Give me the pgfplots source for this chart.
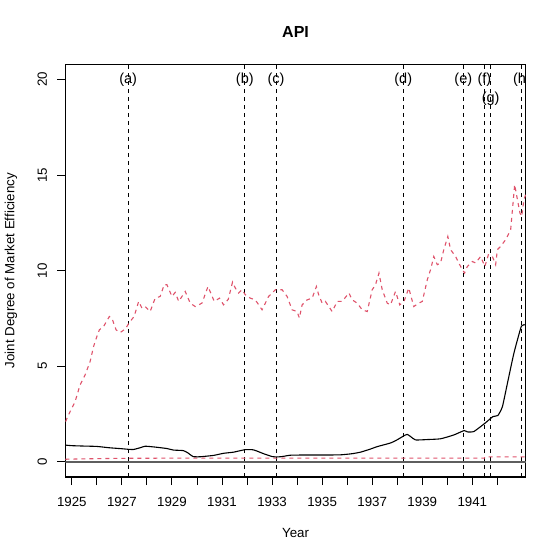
\documentclass[border=0pt]{standalone}
\usepackage{pgfplots}
\pgfplotsset{compat=1.18}
\usepackage{fontspec}
\setmainfont{Liberation Sans}
\definecolor{rred}{HTML}{DF536B}
\definecolor{zgray}{HTML}{5E5E5E}
\begin{document}
\begin{tikzpicture}[font=\fontsize{13.3}{16}\selectfont]
\useasboundingbox (-65.3pt,-82pt) rectangle (493.7pt,477pt);
\begin{axis}[
  at={(0,0)}, anchor=south west,
  scale only axis, width=460.5pt, height=412.7pt,
  xmin=1924.74, xmax=1943.135, ymin=-0.8, ymax=20.8,
  axis line style={line width=1.1pt},
  tick pos=left, tick align=outside, major tick length=8pt,
  tick style={line width=0.9pt, black},
  xtick={1925,...,1942},
  xticklabels={1925,,1927,,1929,,1931,,1933,,1935,,1937,,1939,,1941,},
  ytick={0,5,10,15,20},
  yticklabels={0,5,10,15,20},
  /pgf/number format/assume math mode=true,
  xticklabel style={inner sep=0pt},
  xticklabel shift=12pt,
  yticklabel style={rotate=90, anchor=south, inner sep=0pt},
  yticklabel shift=10pt,
  every axis title shift=0pt,
  title={\fontsize{16}{19}\selectfont\bfseries API},
  title style={at={(axis description cs:0.5,1.0783)}, anchor=center, inner sep=0pt},
  xlabel={Year},
  xlabel style={at={(axis description cs:0.5,-0.1364)}, anchor=center, inner sep=0pt},
  ylabel={Joint Degree of Market Efficiency},
  ylabel style={at={(axis description cs:-0.1179,0.5)}, anchor=center, inner sep=0pt},
  clip=true,
]
% zero line
\addplot[zgray, line width=1.6pt] coordinates {(1924.74,0) (1943.135,0)};
% event lines
\addplot[black, line width=0.9pt, dash pattern=on 4pt off 4pt] coordinates {(1927.25,-0.8) (1927.25,20.8)};
\addplot[black, line width=0.9pt, dash pattern=on 4pt off 4pt] coordinates {(1931.91,-0.8) (1931.91,20.8)};
\addplot[black, line width=0.9pt, dash pattern=on 4pt off 4pt] coordinates {(1933.16,-0.8) (1933.16,20.8)};
\addplot[black, line width=0.9pt, dash pattern=on 4pt off 4pt] coordinates {(1938.24,-0.8) (1938.24,20.8)};
\addplot[black, line width=0.9pt, dash pattern=on 4pt off 4pt] coordinates {(1940.64,-0.8) (1940.64,20.8)};
\addplot[black, line width=0.9pt, dash pattern=on 4pt off 4pt] coordinates {(1941.48,-0.8) (1941.48,20.8)};
\addplot[black, line width=0.9pt, dash pattern=on 4pt off 4pt] coordinates {(1941.73,-0.8) (1941.73,20.8)};
\addplot[black, line width=0.9pt, dash pattern=on 4pt off 4pt] coordinates {(1942.98,-0.8) (1942.98,20.8)};
% lower red
\addplot[rred, line width=1.1pt, dash pattern=on 4pt off 4pt] coordinates {
(1924.74,0.13) (1925.5,0.15) (1926.5,0.17) (1927.3,0.18) (1930,0.19) (1941.48,0.19) (1941.5,0.25) (1943.135,0.25)};
% upper red
\addplot[rred, line width=1.1pt, dash pattern=on 4pt off 4pt] coordinates {
(1924.75,2.10) (1924.93,2.62) (1925.13,3.14) (1925.33,4.02) (1925.53,4.54) (1925.73,5.24)
(1925.87,6.03) (1926.0,6.55) (1926.1,6.90) (1926.27,7.08) (1926.5,7.60) (1926.6,7.52)
(1926.77,6.90) (1926.93,6.76) (1927.13,6.94) (1927.33,7.34) (1927.49,7.60) (1927.67,8.39)
(1927.8,8.04) (1927.93,8.12) (1928.13,7.86) (1928.33,8.56) (1928.53,8.65) (1928.69,9.26)
(1928.8,9.26) (1929.0,8.65) (1929.13,8.86) (1929.27,8.39) (1929.53,8.91) (1929.73,8.30)
(1929.93,8.12) (1930.2,8.30) (1930.44,9.17) (1930.69,8.39) (1930.9,8.56) (1931.06,8.21)
(1931.25,8.50) (1931.42,9.40) (1931.53,9.09) (1931.66,8.83) (1931.8,9.00) (1931.93,8.74)
(1932.13,8.56) (1932.33,8.47) (1932.6,7.95) (1932.86,8.65) (1933.13,9.00) (1933.4,9.00)
(1933.6,8.65) (1933.8,7.95) (1934.0,7.86) (1934.09,7.52) (1934.2,8.21) (1934.4,8.47)
(1934.6,8.56) (1934.77,9.17) (1934.86,8.74) (1935.0,8.30) (1935.13,8.39) (1935.4,7.86)
(1935.6,8.39) (1935.8,8.39) (1936.07,8.83) (1936.2,8.47) (1936.4,8.30) (1936.6,7.95)
(1936.8,7.86) (1937.0,9.00) (1937.13,9.26) (1937.27,9.87) (1937.4,9.00) (1937.6,8.30)
(1937.73,8.21) (1937.93,8.91) (1938.1,8.21) (1938.27,8.39) (1938.46,9.09) (1938.66,8.12)
(1938.86,8.30) (1939.0,8.39) (1939.2,9.52) (1939.33,10.05) (1939.46,10.74) (1939.6,10.31)
(1939.73,10.40) (1939.86,11.10) (1940.02,11.79) (1940.13,11.10) (1940.33,10.74) (1940.53,10.22)
(1940.69,9.87) (1940.8,10.22) (1941.0,10.48) (1941.13,10.40) (1941.33,10.74) (1941.5,10.22)
(1941.64,10.83) (1941.8,10.74) (1941.93,10.31) (1942.0,11.10) (1942.13,11.27) (1942.33,11.62)
(1942.53,12.14) (1942.69,14.50) (1942.8,13.72) (1942.9,13.02) (1942.97,12.84) (1943.06,13.72)
(1943.13,13.98)};
% black solid
\addplot[black, line width=1.1pt, smooth, tension=0.3] coordinates {
(1924.74,0.87) (1925.0,0.84) (1925.46,0.82) (1926.0,0.80) (1926.5,0.73) (1927.0,0.68)
(1927.25,0.65) (1927.46,0.64) (1927.7,0.72) (1927.93,0.81) (1928.3,0.77) (1928.8,0.69)
(1929.06,0.61) (1929.46,0.58) (1929.65,0.45) (1929.84,0.27) (1930.13,0.26) (1930.66,0.33)
(1931.06,0.44) (1931.46,0.50) (1931.92,0.63) (1932.26,0.62) (1932.66,0.42) (1933.0,0.27)
(1933.2,0.25) (1933.4,0.27) (1933.73,0.34) (1934.2,0.35) (1935.0,0.35) (1935.73,0.36)
(1936.2,0.42) (1936.53,0.50) (1936.9,0.65) (1937.2,0.79) (1937.73,0.98) (1938.0,1.15)
(1938.27,1.36) (1938.4,1.43) (1938.53,1.32) (1938.73,1.14) (1939.2,1.16) (1939.73,1.20)
(1940.26,1.40) (1940.67,1.63) (1940.8,1.56) (1941.06,1.58) (1941.5,2.01) (1941.82,2.36)
(1942.02,2.42) (1942.2,2.88) (1942.4,4.10) (1942.66,5.68) (1942.96,7.10) (1943.135,7.15)};
\coordinate (la) at (axis cs:1927.25,20);
\coordinate (lb) at (axis cs:1931.91,20);
\coordinate (lc) at (axis cs:1933.16,20);
\coordinate (ld) at (axis cs:1938.24,20);
\coordinate (le) at (axis cs:1940.64,20);
\coordinate (lf) at (axis cs:1941.48,20);
\coordinate (lg) at (axis cs:1941.73,19);
\coordinate (lh) at (axis cs:1942.98,20);
\end{axis}
\begin{scope}[every node/.style={inner sep=0pt, font=\fontsize{14.5}{17}\selectfont}]
\clip (0,0) rectangle (460.5pt,412.7pt);
\node at (la) {(a)};
\node at (lb) {(b)};
\node at (lc) {(c)};
\node at (ld) {(d)};
\node at (le) {(e)};
\node at (lf) {(f)};
\node at (lg) {(g)};
\node at (lh) {(h)};
\end{scope}
\end{tikzpicture}
\end{document}
